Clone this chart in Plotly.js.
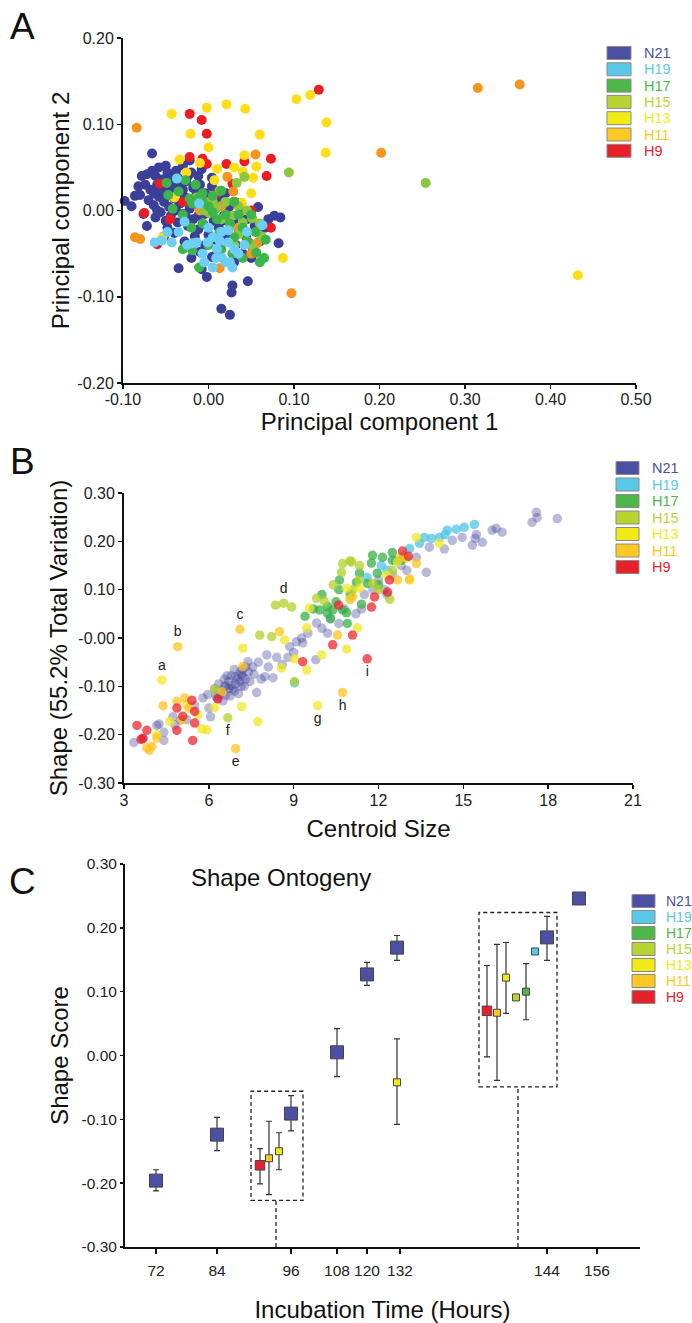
<!DOCTYPE html>
<html><head><meta charset="utf-8">
<script src="https://cdn.plot.ly/plotly-3.0.1.min.js"></script>
<style>html,body{margin:0;padding:0;background:#fff}#chart{width:692px;height:1323px}</style>
</head><body><div id="chart"></div>
<script>
// ---------- DATA ----------
const groups = ['N21','H19','H17','H15','H13','H11','H9'];

// Panel A: [PC1, PC2]
const aN21 = [[-0.098,0.011],[-0.086,0.017],[-0.080,0.018],[-0.090,0.005],[-0.076,-0.004],[-0.072,-0.018],[-0.066,0.066],[-0.078,0.040],[-0.072,0.042],[-0.066,0.046],[-0.058,0.050],[-0.050,0.052],[-0.044,0.040],[-0.038,0.046],[-0.030,0.052],[-0.020,0.044],[-0.012,0.040],[-0.082,0.028],[-0.074,0.030],[-0.068,0.024],[-0.060,0.030],[-0.054,0.036],[-0.046,0.028],[-0.040,0.022],[-0.034,0.030],[-0.026,0.034],[-0.018,0.026],[-0.010,0.030],[-0.004,0.020],[0.004,0.028],[0.010,0.022],[-0.070,0.012],[-0.064,0.006],[-0.058,0.016],[-0.052,0.010],[-0.046,0.004],[-0.040,0.014],[-0.034,0.008],[-0.028,0.016],[-0.022,0.002],[-0.016,0.012],[-0.010,0.004],[-0.004,-0.004],[0.002,0.010],[0.008,0.002],[0.014,0.012],[-0.062,-0.008],[-0.056,-0.002],[-0.050,-0.012],[-0.044,-0.006],[-0.036,-0.014],[-0.030,-0.004],[-0.024,-0.018],[-0.018,-0.010],[-0.012,-0.022],[-0.006,-0.016],[0.000,-0.028],[0.006,-0.012],[0.012,-0.020],[0.018,-0.006],[0.024,0.004],[0.030,-0.014],[0.036,-0.024],[-0.052,-0.030],[-0.040,-0.026],[-0.028,-0.036],[-0.016,-0.030],[-0.004,-0.040],[0.008,-0.034],[0.020,-0.030],[0.032,-0.040],[0.044,-0.030],[0.052,-0.044],[0.060,-0.036],[-0.035,-0.067],[-0.020,-0.055],[-0.008,-0.068],[-0.002,-0.077],[0.028,-0.087],[0.027,-0.095],[0.015,-0.114],[0.025,-0.121],[0.046,-0.082],[0.082,-0.038],[0.077,-0.006],[0.084,-0.008],[0.040,-0.050],[0.010,-0.050],[-0.010,-0.048],[0.030,-0.060],[0.050,-0.055],[0.020,0.020],[0.030,0.010],[0.038,0.000],[0.045,-0.010],[0.054,-0.018],[0.066,-0.020],[0.070,-0.010],[-0.045,0.018],[-0.052,0.022],[-0.022,0.058],[-0.014,0.022],[-0.062,0.040],[-0.048,0.044],[-0.036,0.038],[-0.064,0.020],[-0.056,0.024],[-0.042,0.032],[-0.030,0.024],[-0.024,0.040],[-0.008,0.048],[0.004,0.038],[-0.060,0.000],[-0.048,-0.020],[-0.038,0.000],[-0.026,-0.008],[-0.012,-0.006],[0.000,0.000],[0.016,-0.012],[-0.020,-0.042],[0.004,-0.054],[0.058,0.004]];
const aH9 = [[0.129,0.140],[-0.022,0.112],[-0.008,0.105],[-0.002,0.089],[-0.022,0.062],[-0.007,0.060],[-0.002,0.054],[0.021,0.054],[0.042,0.057],[0.073,0.060],[0.068,0.040],[-0.075,-0.003],[-0.060,-0.039],[0.050,0.000],[0.073,-0.020],[0.033,0.009],[0.048,-0.038],[0.028,0.031],[-0.057,0.031],[0.010,0.020],[-0.030,0.010],[-0.045,-0.010]];
const aH13 = [[-0.043,0.112],[-0.002,0.119],[0.021,0.123],[0.043,0.118],[0.103,0.129],[0.119,0.134],[0.138,0.102],[0.137,0.067],[-0.021,0.089],[0.000,0.073],[0.060,0.088],[0.042,0.064],[0.056,0.051],[-0.034,0.059],[0.040,0.045],[-0.026,0.044],[0.007,0.035],[-0.054,-0.031],[0.087,-0.055],[0.039,0.009],[0.432,-0.075],[0.030,0.050],[0.052,0.038],[-0.010,0.055],[0.010,0.048],[0.050,0.020],[-0.040,0.015]];
const aH11 = [[-0.084,0.096],[0.315,0.142],[0.364,0.146],[0.202,0.067],[0.097,-0.096],[-0.086,-0.031],[-0.080,-0.033],[0.055,0.065],[0.022,0.039],[0.029,0.022],[0.013,-0.067],[0.050,-0.050],[0.057,-0.038],[0.000,0.010],[-0.010,0.000],[0.015,0.005],[0.035,-0.020]];
const aH15 = [[0.001,-0.003],[0.028,-0.006],[0.040,-0.014],[0.051,-0.009],[0.056,-0.025],[0.036,-0.027],[0.009,0.003],[-0.014,0.015],[0.042,0.039],[0.033,0.032],[0.094,0.044],[0.013,0.023],[0.254,0.032],[0.020,0.010],[0.025,-0.020],[0.045,0.000],[0.060,-0.015],[0.015,-0.010],[0.005,0.010],[0.035,0.005],[0.050,-0.040],[-0.005,0.000],[0.030,-0.040],[0.062,-0.030]];
const aH17 = [[-0.011,-0.066],[-0.019,-0.046],[-0.042,0.002],[-0.019,0.008],[-0.007,0.012],[0.005,-0.002],[0.028,-0.050],[0.060,-0.060],[0.065,-0.055],[0.067,-0.034],[0.056,-0.049],[0.030,-0.031],[-0.007,-0.015],[0.013,-0.025],[-0.049,0.032],[-0.027,0.035],[-0.047,0.018],[-0.035,0.022],[-0.022,0.014],[-0.011,0.015],[-0.007,0.020],[0.005,0.017],[0.015,0.023],[0.000,0.005],[0.010,-0.010],[0.020,-0.005],[0.025,-0.015],[0.040,-0.020],[0.045,-0.035],[0.050,-0.005],[0.035,-0.005],[-0.030,-0.005],[-0.020,-0.020],[0.000,-0.040],[0.015,-0.045],[0.040,-0.055],[-0.030,-0.045],[0.055,-0.025],[0.030,0.010],[-0.015,0.030]];
const aH19 = [[-0.028,-0.013],[-0.035,-0.025],[-0.043,-0.037],[-0.018,-0.038],[-0.007,-0.050],[0.005,-0.031],[0.013,-0.035],[0.023,-0.037],[-0.011,0.008],[0.023,-0.023],[0.042,-0.040],[0.063,-0.017],[0.009,-0.055],[0.016,-0.055],[0.028,-0.066],[0.005,-0.066],[0.025,-0.060],[-0.014,-0.037],[-0.001,-0.037],[-0.055,-0.035],[-0.063,-0.037],[-0.048,-0.025],[-0.037,0.037],[0.000,-0.020],[0.010,-0.045],[0.035,-0.050],[0.020,-0.060],[0.030,-0.045],[-0.025,-0.040],[-0.005,-0.060],[0.045,-0.025],[0.015,-0.025]];

// Panel B: [centroid size, shape]
const bN21 = [[3.35,-0.216],[3.67,-0.207],[4.16,-0.181],[4.24,-0.178],[4.41,-0.195],[4.41,-0.212],[4.73,-0.163],[5.22,-0.169],[5.79,-0.124],[5.96,-0.117],[6.06,-0.163],[6.0,-0.145],[6.2,-0.105],[6.35,-0.095],[6.45,-0.110],[6.55,-0.085],[6.6,-0.100],[6.7,-0.090],[6.75,-0.120],[6.8,-0.078],[6.85,-0.105],[6.95,-0.095],[7.0,-0.085],[7.05,-0.115],[7.1,-0.070],[7.2,-0.080],[7.25,-0.100],[7.3,-0.060],[7.38,-0.049],[7.45,-0.090],[7.55,-0.060],[7.6,-0.075],[7.69,-0.113],[7.75,-0.050],[7.85,-0.085],[7.98,-0.080],[8.05,-0.035],[8.27,-0.082],[8.4,-0.040],[8.6,-0.055],[8.86,-0.018],[9.0,-0.030],[9.28,0.000],[9.32,-0.010],[9.5,0.010],[9.78,-0.045],[9.81,0.031],[10.0,0.020],[10.3,0.040],[10.6,0.030],[10.8,0.060],[11.0,0.080],[11.2,0.050],[11.5,0.090],[11.8,0.100],[12.0,0.120],[12.3,0.090],[12.5,0.130],[12.8,0.150],[13.0,0.140],[13.34,0.167],[13.69,0.136],[13.80,0.188],[14.33,0.184],[14.61,0.202],[14.96,0.208],[15.32,0.192],[15.42,0.206],[15.46,0.214],[15.67,0.198],[16.02,0.223],[16.16,0.227],[16.37,0.219],[17.43,0.239],[17.58,0.260],[17.61,0.249],[18.32,0.247],[6.5,-0.130],[6.3,-0.125],[7.15,-0.100],[6.9,-0.065],[5.5,-0.140],[5.0,-0.170],[4.8,-0.180],[6.4,-0.115],[6.6,-0.118],[6.7,-0.105],[6.65,-0.078],[6.9,-0.110],[6.95,-0.080],[7.1,-0.090],[7.15,-0.075],[7.3,-0.085],[7.4,-0.070],[7.2,-0.065],[6.8,-0.098],[6.55,-0.100],[6.25,-0.120],[8.1,-0.060],[8.8,-0.040],[9.1,-0.008],[10.2,0.010],[11.4,0.060],[12.2,0.100]];
const bH19 = [[15.39,0.235],[15.03,0.229],[14.75,0.225],[14.43,0.223],[14.36,0.214],[14.15,0.208],[13.87,0.206],[13.62,0.208],[13.45,0.196],[12.9,0.17],[12.6,0.16],[12.3,0.14],[9.03,-0.093],[11.6,0.125],[12.1,0.150],[13.1,0.185]];
const bH17 = [[11.79,0.171],[11.75,0.155],[12.14,0.167],[12.49,0.177],[12.49,0.161],[12.81,0.161],[11.96,0.134],[11.33,0.134],[11.22,0.115],[11.61,0.113],[10.73,0.058],[10.87,0.052],[10.62,0.120],[9.92,0.058],[10.2,0.051],[10.38,0.058],[10.2,0.065],[10.5,0.075],[10.0,0.09],[9.7,0.06],[10.9,0.03],[10.3,0.04],[11.0,0.09],[11.4,0.07],[12.0,0.11],[10.6,0.10],[9.4,0.045]];
const bH15 = [[8.36,0.068],[8.65,0.072],[8.93,0.064],[6.67,-0.165],[10.73,0.154],[10.69,0.136],[9.81,0.082],[10.09,0.076],[7.80,0.006],[8.22,0.003],[9.03,-0.090],[6.21,-0.107],[11.04,0.157],[11.33,0.150],[11.79,0.113],[12.49,0.140],[11.0,0.16],[11.3,0.12],[12.0,0.10],[12.4,0.08],[10.4,0.11],[11.1,0.10]];
const bH13 = [[4.34,-0.087],[9.85,-0.140],[7.20,-0.021],[8.68,-0.004],[9.46,0.021],[9.99,-0.035],[9.46,-0.066],[9.03,-0.043],[8.57,-0.062],[7.16,-0.142],[7.73,-0.173],[4.62,-0.173],[5.93,-0.190],[5.75,-0.188],[6.21,-0.144],[5.61,-0.159],[5.22,-0.138],[4.16,-0.200],[9.56,0.062],[13.34,0.208],[14.15,0.196],[12.99,0.165],[12.67,0.157],[13.10,0.120],[10.87,0.103],[10.98,0.080],[11.33,0.103],[12.28,0.130],[11.26,0.021],[10.87,-0.023]];
const bH11 = [[4.9,-0.018],[7.1,0.018],[6.95,-0.229],[10.73,-0.113],[3.81,-0.227],[3.99,-0.224],[3.90,-0.232],[4.38,-0.140],[4.87,-0.131],[5.15,-0.124],[5.05,-0.169],[6.46,-0.111],[7.20,-0.059],[8.50,0.013],[10.55,0.006],[4.16,-0.207],[12.78,0.167],[13.10,0.122],[12.67,0.120],[11.08,0.085],[13.34,0.154],[5.3,-0.145]];
const bH9 = [[11.6,-0.043],[3.46,-0.181],[3.67,-0.208],[3.81,-0.191],[4.87,-0.145],[5.08,-0.162],[4.87,-0.191],[5.40,-0.129],[5.50,-0.152],[5.50,-0.176],[5.43,-0.212],[6.32,-0.126],[9.32,-0.049],[10.38,-0.014],[10.59,0.068],[12.85,0.180],[13.06,0.169],[12.39,0.120],[12.32,0.095],[11.75,0.064],[11.86,0.085],[11.08,0.006],[3.60,-0.210]];
// Panel B outlier labels: group -> {point index: letter}
const bLabels = {H13:{0:'a',1:'g'}, H11:{0:'b',1:'c',2:'e',3:'h'}, H15:{1:'d',3:'f'}, H9:{0:'i'}};
const labelsAbove = ['a','b','c','d'];

// Panel C: x = slot position on the (broken) time axis
const cTimeTickPos = [31,92,166,212,242,275,422,472];
const cTimeTickText = ['72','84','96','108','120','132','144','156'];
const cN21 = {x:[31,92,166,212,242,272,422,454], y:[-0.196,-0.124,-0.091,0.005,0.127,0.169,0.185,0.246], hi:[0.017,0.027,0.028,0.037,0.019,0.019,0.033,0], lo:[0.016,0.025,0.027,0.038,0.017,0.020,0.036,0]};
const cH19 = {x:[410], y:[0.163], hi:[0], lo:[0]};
const cH17 = {x:[401], y:[0.100], hi:[0.044], lo:[0.044]};
const cH15 = {x:[391], y:[0.091], hi:[0], lo:[0]};
const cH13 = {x:[154,272,381], y:[-0.150,-0.042,0.122], hi:[0.029,0.068,0.055], lo:[0.029,0.066,0.056]};
const cH11 = {x:[144,372], y:[-0.161,0.067], hi:[0.058,0.107], lo:[0.057,0.106]};
const cH9  = {x:[135,362], y:[-0.172,0.070], hi:[0.026,0.071], lo:[0.029,0.072]};
// highlighted windows on panel C: [x0, x1, yBottom, yTop, connector x]
const cBoxes = [[126,178,-0.227,-0.056,151],[354,432,-0.049,0.224,393]];

// tick labels
const aXTicks = [-0.1,0,0.1,0.2,0.3,0.4,0.5], aXText = ['-0.10','0.00','0.10','0.20','0.30','0.40','0.50'];
const aYTicks = [-0.2,-0.1,0,0.1,0.2], aYText = ['-0.20','-0.10','0.00','0.10','0.20'];
const bXTicks = [3,6,9,12,15,18,21], bXText = ['3','6','9','12','15','18','21'];
const bYTicks = [-0.3,-0.2,-0.1,0,0.1,0.2,0.3], bYText = ['-0.30','-0.20','-0.10','-0.00','0.10','0.20','0.30'];
const cYTicks = [-0.3,-0.2,-0.1,0,0.1,0.2,0.3], cYText = ['-0.30','-0.20','-0.10','0.00','0.10','0.20','0.30'];

// ---------- STYLE ----------
const FONT = 'Arial, "Liberation Sans", Helvetica, sans-serif';
const W = 692, H = 1323;
const px = v => v / W, py = v => 1 - v / H;
const colA = {N21:'#3B3F98',H19:'#6DCFF6',H17:'#3DB54A',H15:'#8DC63F',H13:'#FFDE17',H11:'#F7941D',H9:'#ED1C24'};
const colB = {N21:'rgba(60,64,150,0.36)',H19:'rgba(80,196,230,0.75)',H17:'rgba(55,176,72,0.75)',H15:'rgba(178,208,40,0.75)',H13:'rgba(240,232,30,0.72)',H11:'rgba(253,196,35,0.75)',H9:'rgba(235,30,40,0.72)'};
const colL = {N21:'#4B50A4',H19:'#5CC8E7',H17:'#4DB848',H15:'#B8D433',H13:'#F2EA14',H11:'#FDC824',H9:'#E8202A'};

const traces = [];
const dataA = {N21:aN21,H9:aH9,H13:aH13,H11:aH11,H15:aH15,H17:aH17,H19:aH19};
['N21','H9','H13','H11','H15','H17','H19'].forEach(g => {
  traces.push({type:'scatter', mode:'markers', xaxis:'x', yaxis:'y', name:g, cliponaxis:false,
    x:dataA[g].map(p=>p[0]), y:dataA[g].map(p=>p[1]),
    marker:{size:10, color:colA[g], line:{width:0}}});
});
const dataB = {N21:bN21,H19:bH19,H17:bH17,H15:bH15,H13:bH13,H11:bH11,H9:bH9};
['N21','H19','H17','H15','H13','H11','H9'].forEach(g => {
  const lab = bLabels[g] || {};
  const txt = dataB[g].map((_,i)=> lab[i] || '');
  traces.push({type:'scatter', mode:'markers+text', xaxis:'x2', yaxis:'y2', name:g, cliponaxis:false,
    x:dataB[g].map(p=>p[0]), y:dataB[g].map(p=>p[1]),
    text:txt, textposition:txt.map(t => labelsAbove.includes(t) ? 'top center' : 'bottom center'),
    textfont:{size:14, color:'#222', family:FONT},
    marker:{size:9.5, color:colB[g], line:{width:0}}});
});
const dataC = {H9:cH9,H11:cH11,H13:cH13,H15:cH15,H17:cH17,H19:cH19,N21:cN21};
const sizeC = {N21:13,H9:9.5,H11:7,H13:7,H15:7,H17:7,H19:7};
['H9','H11','H13','H15','H17','H19','N21'].forEach(g => {
  const d = dataC[g];
  traces.push({type:'scatter', mode:'markers', xaxis:'x3', yaxis:'y3', name:g, cliponaxis:false,
    x:d.x, y:d.y,
    error_y:{type:'data', symmetric:false, array:d.hi, arrayminus:d.lo, color:'#333', thickness:1.2, width:3},
    marker:{symbol:'square', size:sizeC[g], color:colL[g], line:{width:1, color:'#444'}}});
});

function ax(extra){
  return Object.assign({showline:true, linecolor:'#111', linewidth:2, ticks:'outside', ticklen:4, tickwidth:1.5, tickcolor:'#111',
    showgrid:false, zeroline:false, fixedrange:true, automargin:false, tickmode:'array',
    tickfont:{size:16, color:'#222', family:FONT}}, extra);
}
const titleFont = {size:24, color:'#111', family:FONT};

const shapes = [], annotations = [];
// legends
const legendSpecs = [{x0:607,x1:631,tx:642,y0:53,dy:16.3,fs:14.5},{x0:616,x1:639,tx:650,y0:468,dy:16.5,fs:14.5},{x0:632,x1:655,tx:664,y0:901,dy:16.0,fs:14}];
legendSpecs.forEach(L => {
  groups.forEach((g,i) => {
    const cy = L.y0 + i*L.dy;
    shapes.push({type:'rect', xref:'paper', yref:'paper', x0:px(L.x0), x1:px(L.x1), y0:py(cy+6.5), y1:py(cy-6.5),
      fillcolor:colL[g], line:{color:'#8a8a8a', width:1}});
    annotations.push({xref:'paper', yref:'paper', x:px(L.tx), y:py(cy), xanchor:'left', yanchor:'middle', showarrow:false,
      text:g, font:{size:L.fs, color:colL[g], family:FONT}});
  });
});
// panel letters
[['A',22,26],['B',22,461],['C',23,881]].forEach(([t,x,y]) => annotations.push({xref:'paper', yref:'paper', x:px(x), y:py(y),
  xanchor:'center', yanchor:'middle', showarrow:false, text:t, font:{size:37, color:'#111', family:FONT}}));
annotations.push({xref:'paper', yref:'paper', x:px(281), y:py(877), xanchor:'center', yanchor:'middle', showarrow:false,
  text:'Shape Ontogeny', font:{size:24, color:'#111', family:FONT}});
// dashed windows in panel C
cBoxes.forEach(b => {
  shapes.push({type:'rect', xref:'x3', yref:'y3', x0:b[0], x1:b[1], y0:b[2], y1:b[3], line:{color:'#222', width:1.3, dash:'4px,3px'}});
  shapes.push({type:'line', xref:'x3', yref:'y3', x0:b[4], x1:b[4], y0:-0.30, y1:b[2], line:{color:'#222', width:1.3, dash:'4px,3px'}});
});

const layout = {
  width:W, height:H, margin:{l:0,r:0,t:0,b:0}, paper_bgcolor:'#fff', plot_bgcolor:'rgba(0,0,0,0)', showlegend:false,
  font:{family:FONT, color:'#222'},
  xaxis: ax({domain:[px(123),px(636)], anchor:'y', range:[-0.10,0.50], tickvals:aXTicks, ticktext:aXText,
    ticklabelstandoff:-3, title:{text:'Principal component 1', font:titleFont, standoff:6}}),
  yaxis: ax({domain:[py(383),py(38)], anchor:'x', range:[-0.20,0.20], tickvals:aYTicks, ticktext:aYText,
    title:{text:'Principal component 2', font:titleFont, standoff:1}}),
  xaxis2: ax({domain:[px(124),px(633)], anchor:'y2', range:[3,21], tickvals:bXTicks, ticktext:bXText,
    ticklabelstandoff:-2, title:{text:'Centroid Size', font:titleFont, standoff:12}}),
  yaxis2: ax({domain:[py(783),py(493)], anchor:'x2', range:[-0.30,0.30], tickvals:bYTicks, ticktext:bYText,
    title:{text:'Shape (55.2% Total Variation)', font:titleFont, standoff:4}}),
  xaxis3: ax({domain:[px(125),px(640)], anchor:'y3', range:[0,515], tickvals:cTimeTickPos, ticktext:cTimeTickText,
    ticklen:5, ticklabelstandoff:3, tickfont:{size:15.5, color:'#222', family:FONT},
    title:{text:'Incubation Time (Hours)', font:titleFont, standoff:24}}),
  yaxis3: ax({domain:[py(1247),py(864)], anchor:'x3', range:[-0.30,0.30], tickvals:cYTicks, ticktext:cYText,
    ticklen:3, tickfont:{size:15.5, color:'#222', family:FONT},
    title:{text:'Shape Score', font:titleFont, standoff:6}}),
  shapes, annotations
};
Plotly.newPlot('chart', traces, layout, {staticPlot:true, displayModeBar:false});
</script></body></html>
